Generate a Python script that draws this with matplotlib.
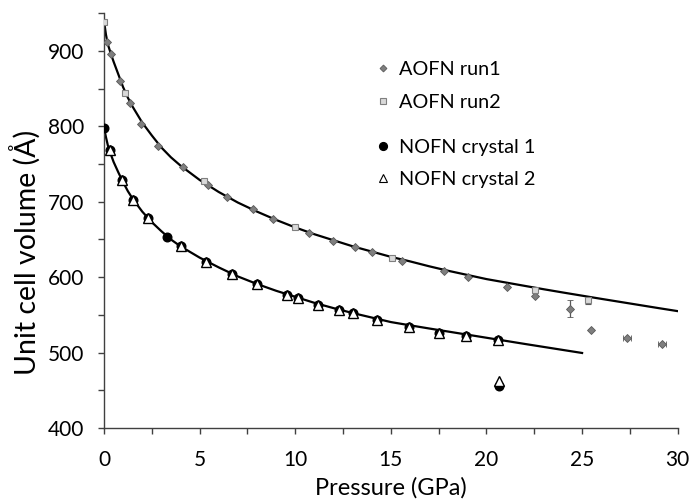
import numpy as np
import matplotlib
matplotlib.use("Agg")
import matplotlib.pyplot as plt
from matplotlib.ticker import MultipleLocator

plt.rcParams['font.family'] = ['Lato', 'DejaVu Sans']

# ── Data ─────────────────────────────────────────────────────────────────────
# AOFN run 1 (grey diamonds)
aofn1_p    = [0.17, 0.38, 0.84, 1.34, 1.93, 2.84, 4.11, 5.42, 6.41, 7.77, 8.83,
              10.73, 11.97, 13.12, 14.04, 15.60, 17.76, 19.05, 21.05, 22.55,
              24.38, 25.46, 27.34, 29.18]
aofn1_v    = [911.5, 895.6, 860.0, 831.4, 802.6, 774.0, 746.0, 722.0, 706.5,
              689.8, 677.8, 659.0, 648.6, 640.0, 633.5, 622.0, 608.0, 600.0,
              587.0, 574.5, 558.3, 529.5, 520.0, 511.0]
aofn1_perr = [0, 0, 0, 0, 0, 0, 0, 0, 0, 0, 0, 0, 0, 0, 0, 0, 0, 0, 0, 0,
              0, 0, 0.2, 0.2]
aofn1_verr = [0, 0, 0, 0, 0, 0, 0, 0, 0, 0, 0, 0, 0, 0, 0, 0, 0, 0, 0, 0,
              11, 0, 0, 0]

# AOFN run 2 (light squares)
aofn2_p    = [0.0, 1.11, 5.21, 9.98, 15.07, 22.55, 25.32]
aofn2_v    = [939.0, 843.8, 727.0, 666.7, 625.0, 582.6, 569.3]
aofn2_verr = [0, 0, 0, 0, 0, 0, 4.5]

# NOFN crystal 1 (black circles)
nofn1_p = [0.0, 0.29, 0.93, 1.54, 2.30, 3.31, 4.04, 5.33, 6.69, 7.98, 9.57,
           10.16, 11.17, 12.28, 13.03, 14.29, 15.95, 17.54, 18.91, 20.62, 20.65]
nofn1_v = [798.0, 768.5, 728.5, 703.0, 678.6, 653.4, 642.0, 620.0, 604.0,
           591.5, 577.0, 572.4, 563.6, 556.0, 552.5, 543.7, 534.0, 526.6,
           522.2, 517.0, 456.0]

# NOFN crystal 2 (open triangles)
nofn2_p = [0.29, 0.93, 1.54, 2.30, 4.04, 5.33, 6.69, 7.98, 9.57, 10.16, 11.17,
           12.28, 13.03, 14.29, 15.95, 17.54, 18.91, 20.62, 20.65]
nofn2_v = [768.5, 728.5, 703.0, 678.6, 642.0, 620.0, 604.0, 591.5, 577.0,
           572.4, 563.6, 556.0, 552.5, 543.7, 534.0, 526.6, 522.2, 517.0, 462.0]

# EoS fit curves
fit_a_p = [0, 0.1, 0.2, 0.35, 0.5, 0.75, 1, 1.25, 1.5, 2, 2.5, 3, 3.5, 4, 5, 6,
           7, 8, 9, 10, 11, 12, 13, 14, 15, 16, 17, 18, 19, 20, 21, 22, 23, 24,
           25, 26, 27, 28, 29, 30]
fit_a_v = [940, 922, 909, 897, 886, 869, 852, 838, 826, 805, 788, 772, 759,
           748, 729, 713, 699, 687, 676, 666, 657, 649, 641, 634, 627, 621,
           614.5, 608.5, 603, 597.5, 593, 588.5, 584, 579.7, 575.5, 571.3,
           567.2, 563.1, 559, 555]

fit_n_p = [0, 0.1, 0.2, 0.3, 0.5, 0.75, 1, 1.25, 1.5, 2, 2.5, 3, 3.5, 4, 5, 6,
           7, 8, 9, 10, 11, 12, 13, 14, 15, 16, 17, 18, 19, 20, 21, 22, 23, 24,
           25]
fit_n_v = [798, 786, 775, 767, 753, 739, 726, 714, 704, 687, 673, 661, 650,
           641, 626, 613, 601, 591, 582, 574, 566, 559, 552.5, 546.5, 540.5,
           536.2, 532, 527.9, 523.8, 519.7, 515.6, 511.5, 507.5, 503.5, 499.5]

# ── Figure ────────────────────────────────────────────────────────────────────
fig = plt.figure(figsize=(6.91, 4.99), dpi=100)
ax = fig.add_axes([104 / 691, 1 - 428 / 499, 573.7 / 691, 414.7 / 499])

ax.plot(fit_a_p, fit_a_v, color='black', lw=1.6, zorder=2)
ax.plot(fit_n_p, fit_n_v, color='black', lw=1.6, zorder=2)

ax.errorbar(aofn1_p, aofn1_v, xerr=aofn1_perr, yerr=aofn1_verr, fmt='D',
            ms=4.4, mfc='#7f7f7f', mec='#595959', mew=0.6,
            ecolor='#595959', elinewidth=0.9, capsize=2.2, capthick=0.9,
            zorder=3)
ax.errorbar(aofn2_p, aofn2_v, yerr=aofn2_verr, fmt='s', ms=5, mfc='#d9d9d9',
            mec='#7f7f7f', mew=0.8, ecolor='#595959', elinewidth=0.9,
            capsize=2.2, capthick=0.9, zorder=4)
ax.plot(nofn1_p, nofn1_v, 'o', ms=6.2, mfc='black', mec='black', zorder=5)
ax.plot(nofn2_p, nofn2_v, '^', ms=6.6, mfc='white', mec='black', mew=1.0,
        zorder=6)

ax.set_xlim(0, 30)
ax.set_ylim(400, 950)
ax.xaxis.set_major_locator(MultipleLocator(5))
ax.xaxis.set_minor_locator(MultipleLocator(2.5))
ax.yaxis.set_major_locator(MultipleLocator(100))
ax.yaxis.set_minor_locator(MultipleLocator(50))

for s in ('top', 'right'):
    ax.spines[s].set_visible(False)
for s in ('left', 'bottom'):
    ax.spines[s].set_color('#404040')
    ax.spines[s].set_linewidth(1.0)

ax.tick_params(which='both', direction='out', length=4, width=1.0,
               color='#404040', labelsize=15)
ax.tick_params(axis='y', pad=10)
ax.tick_params(axis='x', pad=12)

ax.set_xlabel('Pressure (GPa)', fontsize=17, labelpad=5)
ax.set_ylabel('Unit cell volume (Å)', fontsize=20.5)
ax.yaxis.set_label_coords(-0.11, 0.424)

# legends: two groups with a gap between them
h1 = ax.plot([], [], 'D', ms=4.4, mfc='#7f7f7f', mec='#595959', mew=0.6)[0]
h2 = ax.plot([], [], 's', ms=5, mfc='#d9d9d9', mec='#7f7f7f', mew=0.8)[0]
h3 = ax.plot([], [], 'o', ms=7, mfc='black', mec='black')[0]
h4 = ax.plot([], [], '^', ms=6.6, mfc='white', mec='black', mew=0.8)[0]

leg_kw = dict(frameon=False, fontsize=14.3, handlelength=0.8,
              handletextpad=0.4, labelspacing=0.78, borderpad=0,
              borderaxespad=0, markerscale=0.8, loc='center left')
leg1 = ax.legend([h1, h2], ['AOFN run1', 'AOFN run2'],
                 bbox_to_anchor=(0.4724, 0.825), **leg_kw)
ax.add_artist(leg1)
ax.legend([h3, h4], ['NOFN crystal 1', 'NOFN crystal 2'],
          bbox_to_anchor=(0.4724, 0.638), **leg_kw)

fig.savefig('out.png', dpi=100)
